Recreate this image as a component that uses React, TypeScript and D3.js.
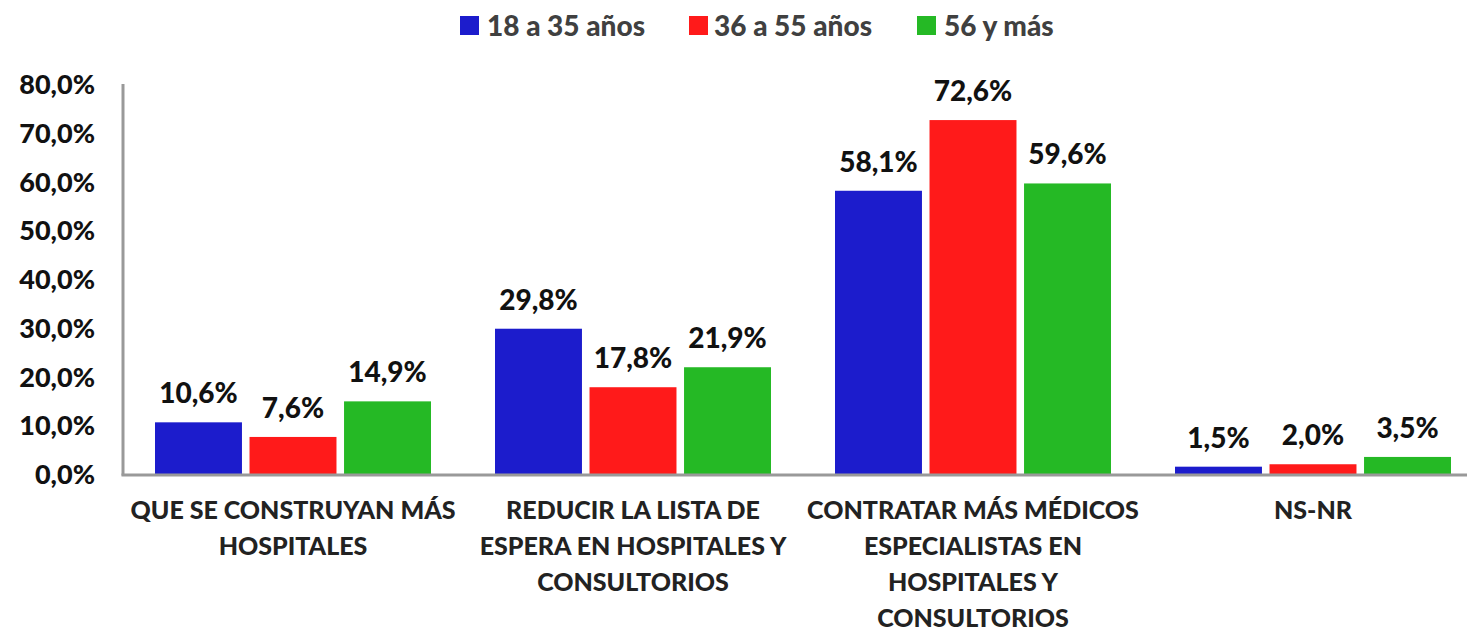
import React from "react";
import * as d3 from "d3";

const categories = [
  ["QUE SE CONSTRUYAN MÁS", "HOSPITALES"],
  ["REDUCIR LA LISTA DE", "ESPERA EN HOSPITALES Y", "CONSULTORIOS"],
  ["CONTRATAR MÁS MÉDICOS", "ESPECIALISTAS EN", "HOSPITALES Y", "CONSULTORIOS"],
  ["NS-NR"],
];
const seriesNames = ["18 a 35 años", "36 a 55 años", "56 y más"];
const seriesColors = ["#1c1ccc", "#ff1a1a", "#25b925"];
const values18_35 = [10.6, 29.8, 58.1, 1.5];
const values36_55 = [7.6, 17.8, 72.6, 2.0];
const values56 = [14.9, 21.9, 59.6, 3.5];
const yTicks = [0, 10, 20, 30, 40, 50, 60, 70, 80];

const W = 1467;
const H = 631;
const FONT = "Lato, 'Open Sans', sans-serif";

const fmt = (v: number) => v.toFixed(1).replace(".", ",") + "%";

export default function App() {
  const series = [values18_35, values36_55, values56];
  const x = d3.scaleBand<number>().domain(categories.map((_, i) => i)).range([123, 1483]);
  const inner = d3.scaleBand<number>().domain([0, 1, 2]).range([-138, 138]).paddingInner(0.08);
  const y = d3.scaleLinear().domain([0, 80]).range([474, 84]);

  const legendItems = [
    { sq: 460, tx: 487 },
    { sq: 689, tx: 714 },
    { sq: 917, tx: 944 },
  ];

  return (
    <svg width={W} height={H} style={{ position: "absolute", left: 0, top: 0, background: "#fff" }} fontFamily={FONT}>
      {/* legend */}
      {seriesNames.map((n, i) => (
        <g key={n}>
          <rect x={legendItems[i].sq} y={16} width={19} height={19} fill={seriesColors[i]} />
          <text x={legendItems[i].tx} y={36} fontSize={28} fontWeight={900} fill="#404040">
            {n}
          </text>
        </g>
      ))}
      {/* y ticks */}
      {yTicks.map((t) => (
        <text key={t} x={95} y={y(t) + 10} textAnchor="end" fontSize={27} fontWeight={900} fill="#111">
          {fmt(t)}
        </text>
      ))}
      {/* bars */}
      {categories.map((_, ci) => {
        const cx = (x(ci) as number) + x.bandwidth() / 2;
        return (
          <g key={ci}>
            {series.map((vals, si) => {
              const bx = cx + (inner(si) as number);
              const bw = inner.bandwidth();
              return (
                <g key={si}>
                  <rect x={bx} y={y(vals[ci])} width={bw} height={y(0) - y(vals[ci])} fill={seriesColors[si]} />
                  <text x={bx + bw / 2} y={y(vals[ci]) - 19} textAnchor="middle" fontSize={28} fontWeight={900} fill="#111">
                    {fmt(vals[ci])}
                  </text>
                </g>
              );
            })}
            {categories[ci].map((line, li) => (
              <text key={li} x={cx} y={519 + li * 36} textAnchor="middle" fontSize={25} fontWeight={900} fill="#222">
                {line}
              </text>
            ))}
          </g>
        );
      })}
      {/* axes */}
      <line x1={123} x2={123} y1={84} y2={475.5} stroke="#999" strokeWidth={3} />
      <line x1={121.5} x2={W} y1={475} y2={475} stroke="#999" strokeWidth={3} />
    </svg>
  );
}
